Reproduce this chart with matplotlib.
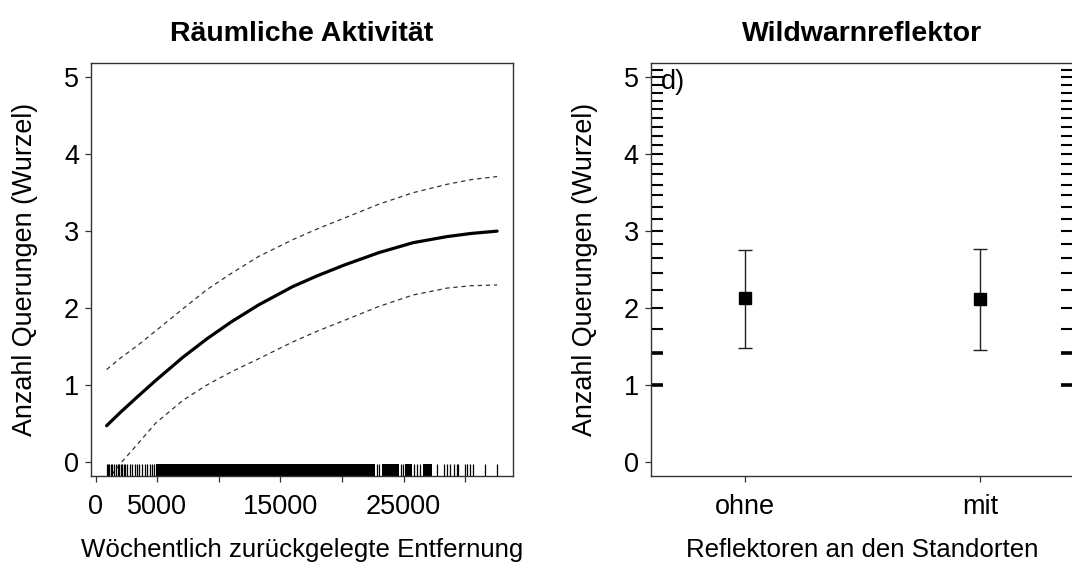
import numpy as np
import matplotlib
matplotlib.use("Agg")
import matplotlib.pyplot as plt

plt.rcParams['font.family'] = ['Liberation Sans', 'DejaVu Sans']

# --- Räumliche Aktivität: Effektkurve mit Konfidenzband ---
dist = [870, 2000, 3435, 4834, 7068, 9023, 11000, 13213, 16006, 18000,
        20195, 22987, 25779, 28572, 30500, 32600]
fit = [0.47, 0.645, 0.855, 1.055, 1.36, 1.60, 1.82, 2.04, 2.28, 2.42,
       2.56, 2.72, 2.85, 2.93, 2.97, 3.00]
upper = [1.20, 1.35, 1.52, 1.70, 1.99, 2.24, 2.45, 2.67, 2.89, 3.03,
         3.17, 3.35, 3.50, 3.61, 3.67, 3.71]
lower = [-0.25, -0.02, 0.24, 0.50, 0.80, 1.00, 1.17, 1.34, 1.56, 1.70,
         1.84, 2.02, 2.17, 2.26, 2.29, 2.30]

# einzelne Beobachtungen (Rug) und dicht belegte Bereiche
rug_single = [870, 960, 1060, 1190, 1330, 1460, 1660, 1760, 1900, 2010,
              2140, 2270, 2350, 2550, 2740, 2960, 3170, 3330, 3490, 3770,
              3980, 4170, 4360, 4520, 4710, 22840, 23030, 24790, 24950,
              25810, 26090, 26360, 27710, 28250, 28520, 28790, 29060,
              29330, 29460, 30010, 30150, 30410, 30680, 31630, 32580]
rug_dense = [(4850, 22700), (23250, 24650), (25140, 25680), (26620, 27300)]

# --- Wildwarnreflektor: Faktoreffekt ---
reflektor = ['ohne', 'mit']
refl_fit = [2.13, 2.12]
refl_low = [1.48, 1.45]
refl_up = [2.76, 2.77]
# beobachtete Querungen (Anzahl), als Wurzel am Rand gezeigt
querungen = [1, 2, 3, 4, 5, 6, 7, 8, 9, 10, 11, 12, 13, 14, 15, 16, 17,
             18, 19, 20, 21, 22, 23, 24, 25, 26]

W, H = 1072, 563
fig = plt.figure(figsize=(W / 100, H / 100), dpi=100)

def px_axes(left, top, right, bottom):
    return fig.add_axes([left / W, 1 - bottom / H, (right - left) / W, (bottom - top) / H])

ax1 = px_axes(91, 62.7, 512.7, 475.7)
ax2 = px_axes(650.7, 62.7, 1073.9, 475.7)

fs_tick = 19.5
fs_ylab = 19.4
fs_xlab = 18.6
fs_title = 20.5
spine_col = '#333333'
for ax in (ax1, ax2):
    for s in ax.spines.values():
        s.set_color(spine_col)
        s.set_linewidth(1.0)
    ax.tick_params(axis='both', direction='out', length=4.6, width=0.9,
                   color=spine_col, labelsize=fs_tick, labelcolor='black')
    ax.tick_params(axis='y', pad=4)
    ax.tick_params(axis='x', pad=8.5)
    ax.set_ylim(-0.18, 5.19)
    ax.set_yticks([0, 1, 2, 3, 4, 5])
    ax.set_ylabel('Anzahl Querungen (Wurzel)', fontsize=fs_ylab, labelpad=18.5)

# linkes Panel
ax1.plot(dist, fit, color='black', lw=2.3, solid_capstyle='round', solid_joinstyle='round')
ax1.plot(dist, upper, color='#333333', lw=0.9, linestyle=(0, (3.5, 3)))
ax1.plot(dist, lower, color='#333333', lw=0.9, linestyle=(0, (3.5, 3)))
ax1.vlines(rug_single, 0, 0.028, color='black', lw=0.9,
           transform=ax1.get_xaxis_transform())
for a, b in rug_dense:
    ax1.axvspan(a, b, ymin=0, ymax=0.028, color='black', lw=0)
span = max(dist) - min(dist)
ax1.set_xlim(min(dist) - 0.04 * span, max(dist) + 0.04 * span)
ax1.set_xticks([0, 5000, 10000, 15000, 20000, 25000, 30000])
ax1.set_xticklabels(['0', '5000', '', '15000', '', '25000', ''])
ax1.set_xlabel('Wöchentlich zurückgelegte Entfernung', fontsize=fs_xlab, labelpad=13)
ax1.set_title('Räumliche Aktivität', fontsize=fs_title, fontweight='bold', pad=15.5)

# rechtes Panel
pos = [1, 2]
ax2.errorbar(pos, refl_fit,
             yerr=[np.subtract(refl_fit, refl_low), np.subtract(refl_up, refl_fit)],
             fmt='none', ecolor='#222222', elinewidth=1.0, capsize=5, capthick=1.0)
ax2.plot(pos, refl_fit, 's', color='black', markersize=9)
rug_y = np.sqrt(querungen)
rug_lw = [2.6 if q <= 2 else 1.5 for q in querungen]
ax2.hlines(rug_y, 0, 0.03, color='black', lw=rug_lw, transform=ax2.get_yaxis_transform())
ax2.hlines(rug_y, 0.97, 1.0, color='black', lw=rug_lw, transform=ax2.get_yaxis_transform())
ax2.set_xlim(0.6, 2.4)
ax2.set_xticks(pos)
ax2.set_xticklabels(reflektor)
ax2.set_xlabel('Reflektoren an den Standorten', fontsize=fs_xlab, labelpad=13)
ax2.set_title('Wildwarnreflektor', fontsize=fs_title, fontweight='bold', pad=15.5)
ax2.text(0.025, 0.985, 'd)', transform=ax2.transAxes, fontsize=fs_tick,
         ha='left', va='top')

fig.savefig('out.png', dpi=100)
